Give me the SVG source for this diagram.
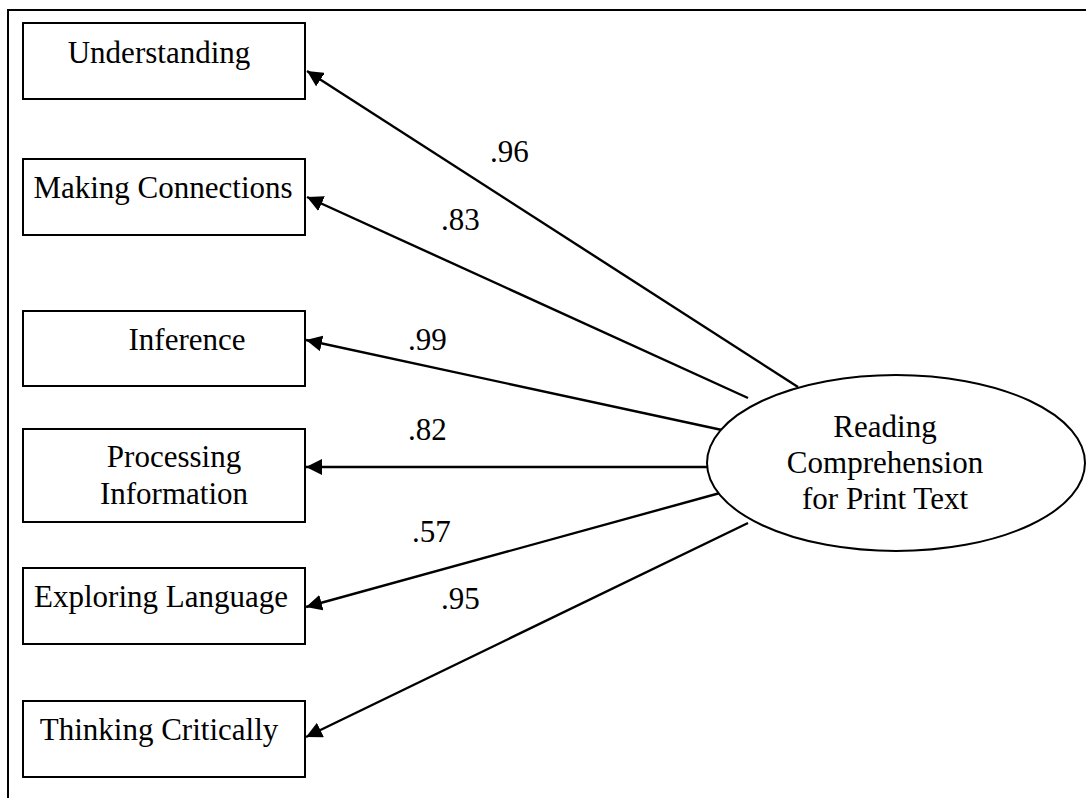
<svg xmlns="http://www.w3.org/2000/svg" width="1086" height="798" viewBox="0 0 1086 798">
<style>
.box{fill:#fff;stroke:#000;stroke-width:2}
.t{font-family:"Liberation Serif","Times New Roman",serif;font-size:31px;fill:#000}
.c{stroke:#000;stroke-width:2.4;fill:none;marker-end:url(#ah)}
</style>
<defs>
<marker id="ah" markerUnits="userSpaceOnUse" markerWidth="18" markerHeight="16" refX="16" refY="8" orient="auto">
<path d="M0,0 L16,8 L0,16 Z" fill="#000"/>
</marker>
</defs>
<rect x="8" y="10" width="1100" height="820" fill="#fff" stroke="#000" stroke-width="2"/>
<g id="connectors">
<line class="c" x1="798" y1="387" x2="307" y2="71"/>
<line class="c" x1="748" y1="398" x2="307" y2="197"/>
<line class="c" x1="722" y1="430" x2="306" y2="340"/>
<line class="c" x1="707" y1="467" x2="306" y2="467"/>
<line class="c" x1="720" y1="493" x2="306" y2="607"/>
<line class="c" x1="748" y1="523" x2="306" y2="737"/>
<text class="t" x="490" y="162">.96</text>
<text class="t" x="441" y="230">.83</text>
<text class="t" x="408" y="350">.99</text>
<text class="t" x="408" y="440">.82</text>
<text class="t" x="412" y="542">.57</text>
<text class="t" x="441" y="609">.95</text>
</g>
<g id="understanding">
<rect class="box" x="23" y="23" width="282" height="76"/>
<text class="t" x="159" y="63" text-anchor="middle">Understanding</text>
</g>
<g id="making-connections">
<rect class="box" x="23" y="159" width="282" height="76"/>
<text class="t" x="163" y="198" text-anchor="middle">Making Connections</text>
</g>
<g id="inference">
<rect class="box" x="23" y="311" width="282" height="75"/>
<text class="t" x="187" y="350" text-anchor="middle">Inference</text>
</g>
<g id="processing-information">
<rect class="box" x="23" y="429" width="282" height="93"/>
<text class="t" x="174" y="467" text-anchor="middle">Processing</text>
<text class="t" x="174" y="504" text-anchor="middle">Information</text>
</g>
<g id="exploring-language">
<rect class="box" x="23" y="568" width="282" height="76"/>
<text class="t" x="161" y="607" text-anchor="middle">Exploring Language</text>
</g>
<g id="thinking-critically">
<rect class="box" x="23" y="701" width="282" height="76"/>
<text class="t" x="159" y="740" text-anchor="middle">Thinking Critically</text>
</g>
<g id="reading-comprehension">
<ellipse cx="896" cy="463" rx="189" ry="88" fill="#fff" stroke="#000" stroke-width="2"/>
<text class="t" x="885" y="437" text-anchor="middle">Reading</text>
<text class="t" x="885" y="473" text-anchor="middle">Comprehension</text>
<text class="t" x="885" y="509" text-anchor="middle">for Print Text</text>
</g>
</svg>
